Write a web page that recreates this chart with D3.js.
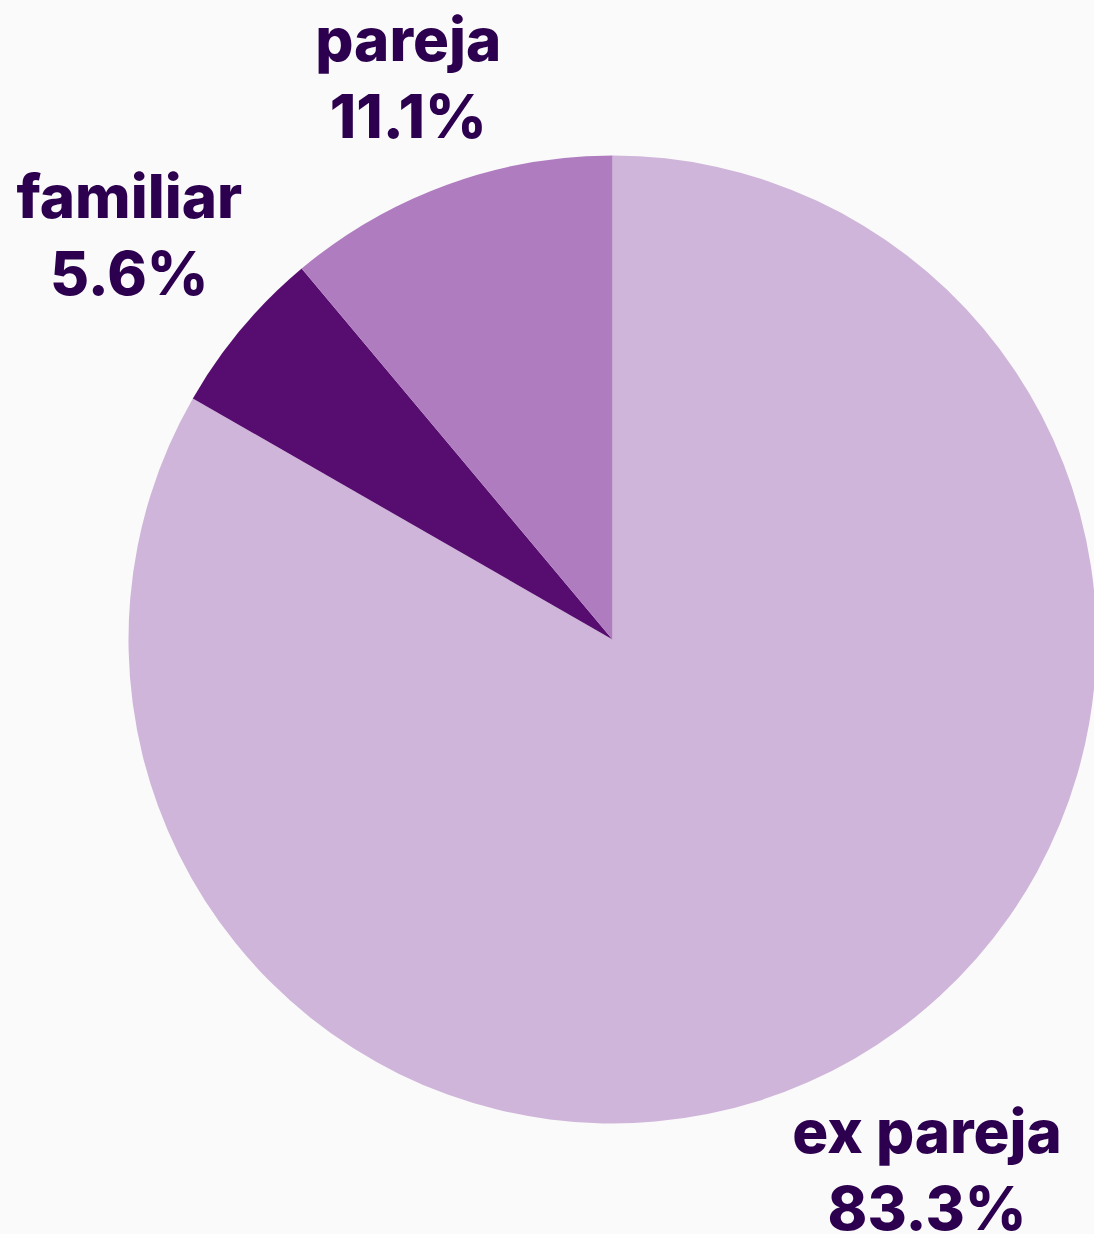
<!DOCTYPE html>
<html>
<head>
<meta charset="utf-8">
<script src="https://cdn.jsdelivr.net/npm/d3@7"></script>
<style>
  html, body { margin: 0; padding: 0; background: #fafafa; }
  svg { display: block; }
  .lbl { font-family: Inter, "Noto Sans", sans-serif; font-weight: 800; fill: #2c004f; }
</style>
</head>
<body>
<div id="chart"></div>
<script>
const categories = ["ex pareja", "familiar", "pareja"];
const values = [83.3, 5.6, 11.1];
const colors = ["#cfb5da", "#570d6f", "#b07cc0"];

const width = 1094, height = 1234;
const cx = 612.5, cy = 639.5, radius = 484;
const labelGap = 12;
const fontSize = 60, lineStep = 77;

const svg = d3.select("#chart").append("svg")
  .attr("width", width)
  .attr("height", height);

svg.append("rect").attr("width", width).attr("height", height).attr("fill", "#fafafa");

const data = categories.map((c, i) => ({ name: c, value: values[i], color: colors[i] }));

const pie = d3.pie().sort(null).value(d => d.value);
const arc = d3.arc().innerRadius(0).outerRadius(radius);
const arcs = pie(data);

const g = svg.append("g").attr("transform", `translate(${cx},${cy})`);

g.selectAll("path.slice")
  .data(arcs)
  .join("path")
  .attr("class", "slice")
  .attr("d", arc)
  .attr("fill", d => d.data.color);

// two-line labels, box pushed outward so its nearest edge sits just outside the pie
const fmt = d3.format(".1f");
const lbl = g.selectAll("g.lbl")
  .data(arcs)
  .join("g")
  .attr("class", "lbl");

lbl.append("text")
  .attr("text-anchor", "middle")
  .style("font-size", fontSize + "px")
  .text(d => d.data.name);
lbl.append("text")
  .attr("text-anchor", "middle")
  .attr("y", lineStep)
  .style("font-size", fontSize + "px")
  .text(d => fmt(d.data.value) + "%");

lbl.each(function(d) {
  const node = d3.select(this);
  const bb = this.getBBox();
  const mid = (d.startAngle + d.endAngle) / 2;
  const dx = Math.sin(mid), dy = -Math.cos(mid);
  const ext = Math.abs(dx) * bb.width / 2 + Math.abs(dy) * bb.height / 2;
  const dist = radius + labelGap + ext;
  let tx = dx * dist - bb.x - bb.width / 2;
  let ty = dy * dist - bb.y - bb.height / 2;
  // keep the box from running too far past the bottom edge
  const bottom = cy + ty + bb.y + bb.height;
  if (bottom > height + 10) ty -= bottom - (height + 10);
  node.attr("transform", `translate(${tx},${ty})`);
});
</script>
</body>
</html>
